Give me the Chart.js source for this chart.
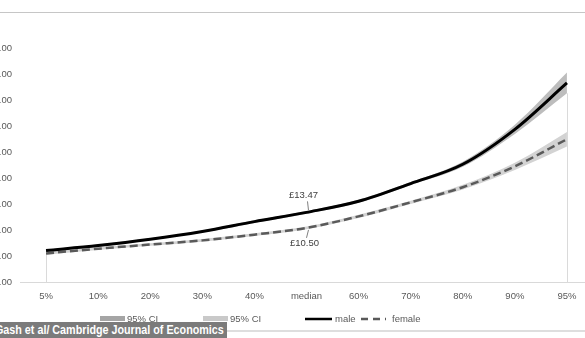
<!doctype html>
<html lang="en">
<head>
<meta charset="utf-8">
<title>Hourly pay by percentile</title>
<style>
  body { margin: 0; background: #fff; overflow: hidden; width: 585px; height: 338px; position: relative; font-family: "Liberation Sans", Arial, sans-serif; }
  #topline { position: absolute; left: 0; top: 12px; width: 585px; height: 1px; background: #c6c6c6; }
  #bottomline { position: absolute; left: 0; top: 330px; width: 585px; height: 2px; background: #dedede; }
  #wrap { position: absolute; left: -30px; top: 0; width: 640px; height: 338px; }
  #credit { position: absolute; left: 0; top: 322px; width: 227px; height: 16px; background: #7b7b7b; color: #fff;
    font: bold 12.5px "Liberation Sans", Arial, sans-serif; line-height: 16px; white-space: nowrap; overflow: hidden; }
  #credit span { display: inline-block; transform: scaleX(0.86); transform-origin: 0 50%; margin-left: -5px; }
</style>
</head>
<body>
<div id="topline"></div>
<div id="wrap"><canvas id="myChart"></canvas></div>
<div id="bottomline"></div>
<div id="credit"><span>Gash et al/ Cambridge Journal of Economics</span></div>

<script src="https://cdn.jsdelivr.net/npm/chart.js@4/dist/chart.umd.min.js"></script>
<script>
var labels = ['5%','10%','20%','30%','40%','median','60%','70%','80%','90%','95%']
var male = [6.15, 7.1, 8.3, 9.8, 11.7, 13.47, 15.6, 19.0, 22.7, 29.4, 38.3]
var maleLow = [5.95, 6.9, 8.1, 9.6, 11.45, 13.2, 15.3, 18.7, 22.2, 28.5, 36.3]
var maleHigh = [6.35, 7.3, 8.5, 10.0, 11.95, 13.75, 15.9, 19.3, 23.2, 30.3, 40.3]
var female = [5.6, 6.5, 7.3, 8.1, 9.2, 10.5, 12.7, 15.4, 18.3, 22.3, 27.5]
var femaleLow = [5.35, 6.25, 7.05, 7.85, 8.95, 10.25, 12.4, 15.1, 17.85, 21.6, 26.1]
var femaleHigh = [5.85, 6.75, 7.55, 8.35, 9.45, 10.75, 13.0, 15.7, 18.75, 23.0, 28.9]
var yTicks = [0, 5, 10, 15, 20, 25, 30, 35, 40, 45]
var medianNotes = ['£13.47', '£10.50']

var SHIFT = 30  // canvas sits 30px left of the page edge
var FONT = '"Liberation Sans", Arial, sans-serif'

// drop lines at the first and last category, like the excel area edges
var dropLines = {
    id: 'dropLines',
    beforeDatasetsDraw: function(chart) {
        var ctx = chart.ctx, x = chart.scales.x, y = chart.scales.y
        ctx.save()
        ctx.strokeStyle = '#dadada'
        ctx.lineWidth = 1
        ;[0, labels.length - 1].forEach(function(i) {
            var px = Math.round(x.getPixelForValue(i)) + 0.5
            ctx.beginPath()
            ctx.moveTo(px, y.getPixelForValue(maleLow[i]))
            ctx.lineTo(px, y.getPixelForValue(0))
            ctx.stroke()
        })
        ctx.restore()
    }
}

// the £ labels at the median with their small leader lines
var notes = {
    id: 'notes',
    afterDatasetsDraw: function(chart) {
        var ctx = chart.ctx, x = chart.scales.x, y = chart.scales.y
        var i = labels.indexOf('median')
        var px = x.getPixelForValue(i)
        var ym = y.getPixelForValue(male[i]), yf = y.getPixelForValue(female[i])
        ctx.save()
        ctx.font = '9.5px ' + FONT
        ctx.fillStyle = '#404040'
        ctx.textAlign = 'center'
        ctx.textBaseline = 'middle'
        ctx.fillText(medianNotes[0], px - 3, ym - 17)
        ctx.fillText(medianNotes[1], px - 2, yf + 16)
        ctx.strokeStyle = '#7f7f7f'
        ctx.lineWidth = 1
        ctx.beginPath()
        ctx.moveTo(px + 1, ym - 11); ctx.lineTo(px + 2, ym - 2)
        ctx.moveTo(px + 2, yf + 2); ctx.lineTo(px, yf + 10)
        ctx.stroke()
        ctx.restore()
    }
}

// excel style legend row under the axis
var legendRow = {
    id: 'legendRow',
    afterDraw: function(chart) {
        var ctx = chart.ctx, ly = 319
        ctx.save()
        ctx.font = '9.5px ' + FONT
        ctx.textBaseline = 'middle'
        ctx.fillStyle = '#a5a5a5'; ctx.fillRect(100 + SHIFT, ly - 3, 25, 5)
        ctx.fillStyle = '#c9c9c9'; ctx.fillRect(203 + SHIFT, ly - 3, 25, 5)
        ctx.fillStyle = '#595959'
        ctx.fillText('95% CI', 127 + SHIFT, ly)
        ctx.fillText('95% CI', 230 + SHIFT, ly)
        ctx.fillText('male', 335 + SHIFT, ly)
        ctx.fillText('female', 392 + SHIFT, ly)
        ctx.lineWidth = 2.5
        ctx.strokeStyle = '#000'
        ctx.beginPath(); ctx.moveTo(305 + SHIFT, ly); ctx.lineTo(332 + SHIFT, ly); ctx.stroke()
        ctx.strokeStyle = '#595959'
        ctx.setLineDash([7, 5])
        ctx.beginPath(); ctx.moveTo(361 + SHIFT, ly); ctx.lineTo(386 + SHIFT, ly); ctx.stroke()
        ctx.restore()
    }
}

var base = { pointRadius: 0, cubicInterpolationMode: 'monotone', borderWidth: 0 }

new Chart(document.getElementById('myChart'), {
    type: 'line',
    data: {
        labels: labels,
        datasets: [
            Object.assign({}, base, { label: 'maleLow', data: maleLow, fill: false, order: 3 }),
            Object.assign({}, base, { label: '95% CI', data: maleHigh, fill: '-1', backgroundColor: '#bdbdbd', order: 3 }),
            Object.assign({}, base, { label: 'femaleLow', data: femaleLow, fill: false, order: 2 }),
            Object.assign({}, base, { label: '95% CI', data: femaleHigh, fill: '-1', backgroundColor: '#d3d3d3', order: 2 }),
            Object.assign({}, base, { label: 'male', data: male, borderColor: '#000', borderWidth: 3, fill: false, order: 0 }),
            Object.assign({}, base, { label: 'female', data: female, borderColor: '#5a5a5a', borderWidth: 2.5, borderDash: [8, 4], fill: false, order: 1 })
        ]
    },
    options: {
        responsive: true,
        maintainAspectRatio: false,
        animation: false,
        layout: { padding: { top: 48, right: 17, bottom: 28, left: 0 } },
        plugins: { legend: { display: false }, tooltip: { enabled: false } },
        scales: {
            x: {
                offset: true,
                grid: { display: false, drawTicks: false },
                border: { color: '#d9d9d9', width: 1 },
                ticks: { color: '#595959', font: { family: FONT, size: 9.5 }, padding: 8, maxRotation: 0, autoSkip: false }
            },
            y: {
                min: 0, max: 45,
                afterFit: function(scale) { scale.width = 50 },
                afterBuildTicks: function(scale) { scale.ticks = yTicks.map(function(v) { return { value: v } }) },
                grid: { display: false, drawTicks: false },
                border: { display: false },
                ticks: { color: '#595959', font: { family: FONT, size: 9.5 }, padding: 8,
                    callback: function(v) { return v.toFixed(2) } }
            }
        }
    },
    plugins: [dropLines, notes, legendRow]
})
</script>
</body>
</html>
